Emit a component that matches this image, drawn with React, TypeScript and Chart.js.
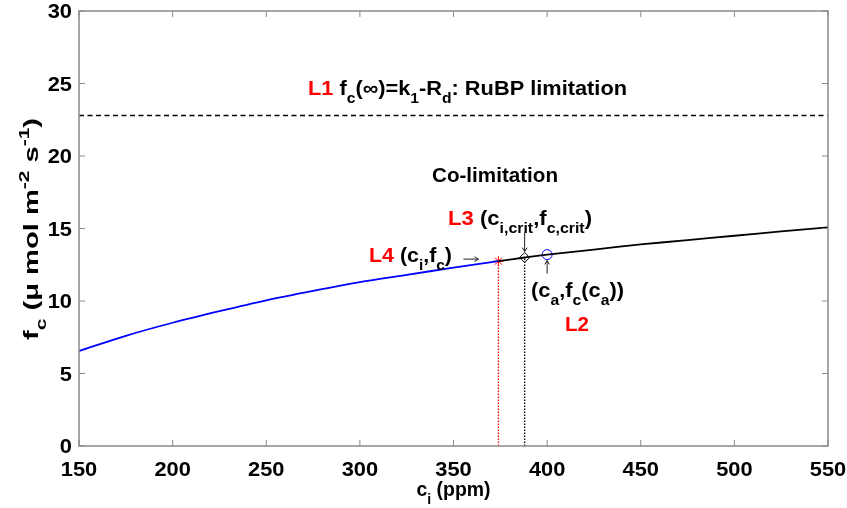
import React, { useEffect, useRef } from "react";
import { Chart, registerables } from "chart.js";

Chart.register(...registerables);

// ---- data ----
const blueX = [150, 175, 200, 225, 250, 275, 300, 325, 350, 374];
const blueY = [6.55, 7.6, 8.5, 9.3, 10.05, 10.7, 11.3, 11.8, 12.3, 12.75];
const blackX = [374, 388, 400, 425, 450, 475, 500, 525, 550];
const blackY = [12.75, 13.0, 13.2, 13.55, 13.9, 14.2, 14.5, 14.8, 15.08];
const rubpLimit = 22.8;
const ciPoint = [374, 12.75];
const critPoint = [388, 13.0];
const caPoint = [400, 13.2];
const xTicks = [150, 200, 250, 300, 350, 400, 450, 500, 550];
const yTicks = [0, 5, 10, 15, 20, 25, 30];

const FONT = '"Liberation Sans", Arial, Helvetica, sans-serif';
const RED = "#ff0000";

type Seg = { t: string; c?: string; s?: "sub" | "sup" };

function drawRich(
  ctx: CanvasRenderingContext2D,
  segs: Seg[],
  x: number,
  y: number,
  size: number,
  opt: { targetW?: number; sx?: number; align?: "left" | "center" | "right"; rotate?: boolean }
) {
  const subScale = 0.72;
  const widths: number[] = [];
  let W = 0;
  for (const s of segs) {
    const sz = s.s ? size * subScale : size;
    ctx.font = `bold ${sz}px ${FONT}`;
    const w = ctx.measureText(s.t).width;
    widths.push(w);
    W += w;
  }
  const sx = opt.targetW ? opt.targetW / W : opt.sx ?? 1;
  ctx.save();
  ctx.translate(x, y);
  if (opt.rotate) ctx.rotate(-Math.PI / 2);
  ctx.scale(sx, 1);
  let cx = 0;
  if (opt.align === "center") cx = -W / 2;
  else if (opt.align === "right") cx = -W;
  ctx.textBaseline = "alphabetic";
  ctx.textAlign = "left";
  segs.forEach((s, i) => {
    const sz = s.s ? size * subScale : size;
    ctx.font = `bold ${sz}px ${FONT}`;
    ctx.fillStyle = s.c ?? "#000";
    let dy = 0;
    if (s.s === "sub") dy = size * 0.38;
    if (s.s === "sup") dy = -size * 0.45;
    ctx.fillText(s.t, cx, dy);
    cx += widths[i];
  });
  ctx.restore();
}

function arrow(ctx: CanvasRenderingContext2D, x1: number, y1: number, x2: number, y2: number) {
  const a = Math.atan2(y2 - y1, x2 - x1);
  const h = 4.5;
  ctx.save();
  ctx.strokeStyle = "#222";
  ctx.lineWidth = 1;
  ctx.beginPath();
  ctx.moveTo(x1, y1);
  ctx.lineTo(x2, y2);
  ctx.moveTo(x2 - h * Math.cos(a - 0.55), y2 - h * Math.sin(a - 0.55));
  ctx.lineTo(x2, y2);
  ctx.lineTo(x2 - h * Math.cos(a + 0.55), y2 - h * Math.sin(a + 0.55));
  ctx.stroke();
  ctx.restore();
}

const decorPlugin = {
  id: "decor",
  afterDraw(chart: any) {
    const ctx: CanvasRenderingContext2D = chart.ctx;
    const xs = chart.scales.x;
    const ys = chart.scales.y;
    const { left, right, top, bottom } = chart.chartArea;

    // box + inward ticks
    ctx.save();
    ctx.strokeStyle = "#8a8a8a";
    ctx.lineWidth = 1.5;
    ctx.strokeRect(left, top, right - left, bottom - top);
    ctx.lineWidth = 1;
    ctx.beginPath();
    const tl = 6;
    for (const v of xTicks) {
      const px = xs.getPixelForValue(v);
      ctx.moveTo(px, bottom);
      ctx.lineTo(px, bottom - tl);
      ctx.moveTo(px, top);
      ctx.lineTo(px, top + tl);
    }
    for (const v of yTicks) {
      const py = ys.getPixelForValue(v);
      ctx.moveTo(left, py);
      ctx.lineTo(left + tl, py);
      ctx.moveTo(right, py);
      ctx.lineTo(right - tl, py);
    }
    ctx.stroke();
    ctx.restore();

    // tick labels
    for (const v of xTicks) {
      drawRich(ctx, [{ t: String(v) }], xs.getPixelForValue(v), bottom + 30, 19.5, { sx: 1.12, align: "center" });
    }
    for (const v of yTicks) {
      drawRich(ctx, [{ t: String(v) }], left - 7, ys.getPixelForValue(v) + 7, 19.5, { sx: 1.12, align: "right" });
    }

    // axis titles
    drawRich(ctx, [{ t: "c" }, { t: "i", s: "sub" }, { t: " (ppm)" }], (left + right) / 2, bottom + 50, 21, {
      targetW: 74,
      align: "center",
    });
    drawRich(
      ctx,
      [
        { t: "f" },
        { t: "c", s: "sub" },
        { t: " (" },
        { t: "\u03bc" },
        { t: " mol m" },
        { t: "-2", s: "sup" },
        { t: " s" },
        { t: "-1", s: "sup" },
        { t: ")" },
      ],
      38,
      229,
      21,
      { targetW: 222, align: "center", rotate: true }
    );

    // annotations
    drawRich(
      ctx,
      [
        { t: "L1", c: RED },
        { t: " f" },
        { t: "c", s: "sub" },
        { t: "(\u221e)=k" },
        { t: "1", s: "sub" },
        { t: "-R" },
        { t: "d", s: "sub" },
        { t: ": RuBP limitation" },
      ],
      308,
      95,
      20,
      { targetW: 319 }
    );
    drawRich(ctx, [{ t: "Co-limitation" }], 432, 182, 20, { targetW: 126 });
    drawRich(
      ctx,
      [
        { t: "L3", c: RED },
        { t: " (c" },
        { t: "i,crit", s: "sub" },
        { t: ",f" },
        { t: "c,crit", s: "sub" },
        { t: ")" },
      ],
      448,
      225,
      20,
      { targetW: 144 }
    );
    drawRich(
      ctx,
      [{ t: "L4", c: RED }, { t: " (c" }, { t: "i", s: "sub" }, { t: ",f" }, { t: "c", s: "sub" }, { t: ")" }],
      369,
      262,
      20,
      { targetW: 83 }
    );
    drawRich(
      ctx,
      [
        { t: "(c" },
        { t: "a", s: "sub" },
        { t: ",f" },
        { t: "c", s: "sub" },
        { t: "(c" },
        { t: "a", s: "sub" },
        { t: "))" },
      ],
      531,
      297,
      20,
      { targetW: 93 }
    );
    drawRich(ctx, [{ t: "L2", c: RED }], 565, 331, 20, { targetW: 24 });

    // arrows pointing at the marked points
    const sx = xs.getPixelForValue(ciPoint[0]);
    const sy = ys.getPixelForValue(ciPoint[1]);
    arrow(ctx, sx - 35, sy - 2, sx - 20, sy - 2);
    const dx = xs.getPixelForValue(critPoint[0]);
    const dy = ys.getPixelForValue(critPoint[1]);
    arrow(ctx, dx, dy - 25, dx, dy - 6);
    const cx = xs.getPixelForValue(caPoint[0]);
    const cy = ys.getPixelForValue(caPoint[1]);
    arrow(ctx, cx, cy + 19, cx, cy + 6);
  },
};

export default function App() {
  const ref = useRef<HTMLCanvasElement | null>(null);
  useEffect(() => {
    if (!ref.current) return;
    const chart = new Chart(ref.current, {
      type: "scatter",
      data: {
        datasets: [
          {
            data: blueX.map((x, i) => ({ x, y: blueY[i] })),
            showLine: true,
            borderColor: "#0000ff",
            borderWidth: 1.8,
            pointRadius: 0,
            tension: 0.3,
          },
          {
            data: blackX.map((x, i) => ({ x, y: blackY[i] })),
            showLine: true,
            borderColor: "#000",
            borderWidth: 1.8,
            pointRadius: 0,
            tension: 0.3,
          },
          {
            data: [
              { x: xTicks[0], y: rubpLimit },
              { x: xTicks[xTicks.length - 1], y: rubpLimit },
            ],
            showLine: true,
            borderColor: "#000",
            borderWidth: 1.5,
            borderDash: [5, 3.5],
            pointRadius: 0,
          },
          {
            data: [
              { x: ciPoint[0], y: 0 },
              { x: ciPoint[0], y: ciPoint[1] },
            ],
            showLine: true,
            borderColor: RED,
            borderWidth: 1.3,
            borderDash: [1.5, 1.5],
            pointRadius: 0,
          },
          {
            data: [
              { x: critPoint[0], y: 0 },
              { x: critPoint[0], y: critPoint[1] },
            ],
            showLine: true,
            borderColor: "#000",
            borderWidth: 1.3,
            borderDash: [1.5, 1.5],
            pointRadius: 0,
          },
          {
            data: [{ x: ciPoint[0], y: ciPoint[1] }],
            pointStyle: "star",
            pointRadius: 5,
            borderColor: RED,
            borderWidth: 1,
            backgroundColor: "transparent",
          },
          {
            data: [{ x: critPoint[0], y: critPoint[1] }],
            pointStyle: "rectRot",
            pointRadius: 5,
            borderColor: "#000",
            borderWidth: 1,
            backgroundColor: "transparent",
          },
          {
            data: [{ x: caPoint[0], y: caPoint[1] }],
            pointStyle: "circle",
            pointRadius: 5,
            borderColor: "#0000ff",
            borderWidth: 1,
            backgroundColor: "transparent",
          },
        ],
      },
      options: {
        animation: false,
        responsive: true,
        maintainAspectRatio: false,
        layout: { padding: { left: 79, right: 19, top: 11, bottom: 62 } },
        plugins: { legend: { display: false }, tooltip: { enabled: false }, title: { display: false } },
        events: [],
        scales: {
          x: {
            type: "linear",
            min: 150,
            max: 550,
            grid: { display: false, drawTicks: false },
            border: { display: false },
            ticks: { display: false, stepSize: 50 },
          },
          y: {
            type: "linear",
            min: 0,
            max: 30,
            grid: { display: false, drawTicks: false },
            border: { display: false },
            ticks: { display: false, stepSize: 5 },
          },
        },
      },
      plugins: [decorPlugin],
    });
    return () => chart.destroy();
  }, []);
  return (
    <div style={{ position: "absolute", left: 0, top: 0, width: 847, height: 508, background: "#fff" }}>
      <canvas ref={ref} />
    </div>
  );
}
